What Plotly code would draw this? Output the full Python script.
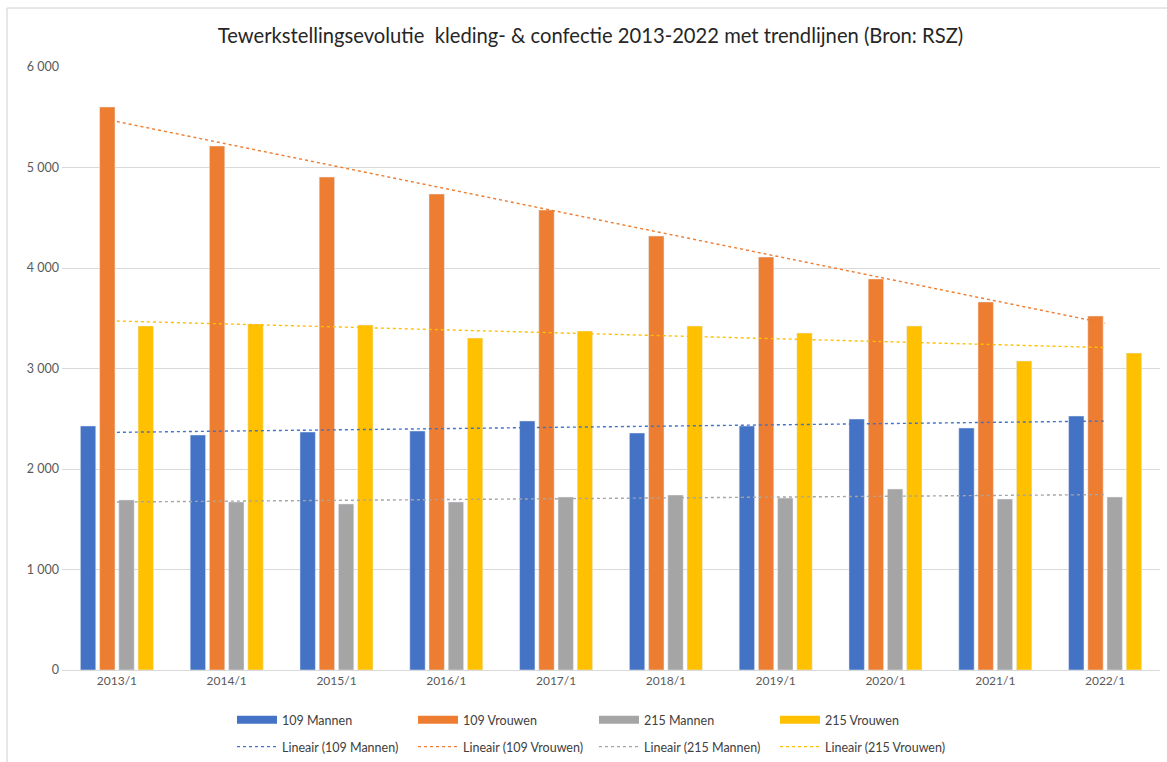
import numpy as np
import plotly.graph_objects as go

categories = ["2013/1", "2014/1", "2015/1", "2016/1", "2017/1",
              "2018/1", "2019/1", "2020/1", "2021/1", "2022/1"]
mannen_109 = [2428, 2338, 2368, 2378, 2478, 2358, 2428, 2497, 2408, 2527]
vrouwen_109 = [5602, 5214, 4905, 4736, 4577, 4318, 4109, 3891, 3662, 3522]
mannen_215 = [1692, 1672, 1652, 1672, 1721, 1741, 1711, 1801, 1701, 1721]
vrouwen_215 = [3423, 3443, 3433, 3303, 3373, 3423, 3353, 3423, 3075, 3154]

series = [
    ("109 Mannen", mannen_109, "#4472C4"),
    ("109 Vrouwen", vrouwen_109, "#ED7D31"),
    ("215 Mannen", mannen_215, "#A5A5A5"),
    ("215 Vrouwen", vrouwen_215, "#FFC000"),
]

fig = go.Figure()
for name, vals, col in series:
    fig.add_trace(go.Bar(x=categories, y=vals, name=name, marker_color=col,
                         legendgroup=name, showlegend=False))
    # legend proxy with a wide rectangular key (no data)
    fig.add_trace(go.Scatter(x=[None], y=[None], mode="lines", name=name,
                             legendgroup=name, legend="legend",
                             line=dict(color=col, width=8)))

idx = np.arange(len(categories))
for name, vals, col in series:
    k, b = np.polyfit(idx, vals, 1)
    fig.add_trace(go.Scatter(x=categories, y=k * idx + b, mode="lines",
                             name=f"Lineair ({name})",
                             line=dict(color=col, width=1.4, dash="dot"),
                             legend="legend2"))

font = "Lato, 'Open Sans', sans-serif"
W, H = 1167, 762
L, R, T, B = 62, 7, 67, 92
pw, ph = W - L - R, H - T - B


def px_x(p):
    return (p - L) / pw


def px_y(p):
    return (H - B - p) / ph


fig.update_layout(
    width=W, height=H,
    margin=dict(l=L, r=R, t=T, b=B, autoexpand=False),
    paper_bgcolor="white", plot_bgcolor="white",
    font=dict(family=font, size=12, color="#595959"),
    separators=", ",
    title=dict(text="Tewerkstellingsevolutie  kleding- & confectie 2013-2022 met trendlijnen (Bron: RSZ)",
               x=0.506, xanchor="center", y=0.953, yanchor="middle",
               font=dict(family=font, size=20.2, color="#262626")),
    barmode="group", bargap=0.3, bargroupgap=0.2,
    showlegend=True,
    legend=dict(orientation="h", x=px_x(232), xanchor="left", y=px_y(720), yanchor="middle",
                entrywidth=126, font=dict(size=12.5, color="#404040"),
                traceorder="normal", itemwidth=40, bgcolor="rgba(0,0,0,0)"),
    legend2=dict(orientation="h", x=px_x(232), xanchor="left", y=px_y(747), yanchor="middle",
                 entrywidth=126, font=dict(size=12.5, color="#404040"),
                 traceorder="normal", itemwidth=40, bgcolor="rgba(0,0,0,0)"),
    xaxis=dict(showline=True, linecolor="#D9D9D9", ticks="",
               tickfont=dict(size=12, color="#595959")),
    yaxis=dict(range=[0, 6000], dtick=1000, tickformat=",d",
               showgrid=True, gridcolor="#D9D9D9", zeroline=False,
               ticks="", ticklabelstandoff=2,
               tickfont=dict(size=12.5, color="#595959")),
    shapes=[
        dict(type="line", xref="paper", yref="paper", x0=px_x(7), x1=px_x(7),
             y0=px_y(8), y1=px_y(H), line=dict(color="#D0D0D0", width=1)),
        dict(type="line", xref="paper", yref="paper", x0=px_x(7), x1=px_x(W),
             y0=px_y(8), y1=px_y(8), line=dict(color="#D0D0D0", width=1)),
    ],
)

fig.write_html("out.html")
